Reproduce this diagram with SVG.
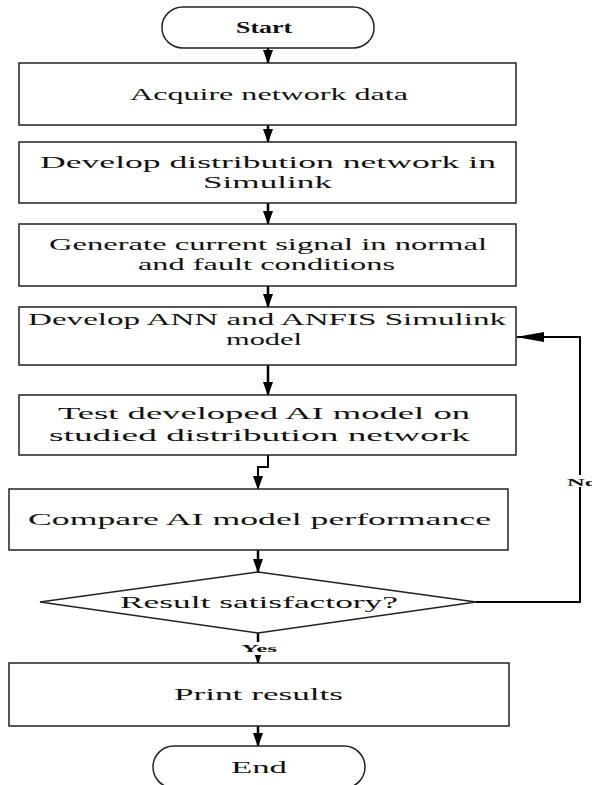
<svg xmlns="http://www.w3.org/2000/svg" width="592" height="785" viewBox="0 0 592 785">
<defs>
<style>
.n{fill:#fff;stroke:#222;stroke-width:1.5}
.t{font-family:"Liberation Serif","Times New Roman",serif;font-size:17px;fill:#111}
.b{font-weight:bold}
.s{font-family:"Liberation Serif","Times New Roman",serif;font-size:11px;font-weight:bold;fill:#111}
.c{fill:none;stroke:#000;stroke-width:2.5}
.c2{fill:none;stroke:#000;stroke-width:2}
</style>
<marker id="arr" viewBox="0 0 14 10" refX="13" refY="5" markerWidth="14" markerHeight="10" markerUnits="userSpaceOnUse" orient="auto"><path d="M0,0 L14,5 L0,10 z" fill="#000"/></marker>
<marker id="arrL" viewBox="0 0 28 10" refX="27" refY="5" markerWidth="28" markerHeight="10" markerUnits="userSpaceOnUse" orient="auto"><path d="M0,0 L28,5 L0,10 z" fill="#000"/></marker>
</defs>
<rect width="592" height="785" fill="#fff"/>
<g id="connectors">
<path class="c" d="M268,48 V63" marker-end="url(#arr)"/>
<path class="c" d="M268,125 V142" marker-end="url(#arr)"/>
<path class="c" d="M268,203 V224" marker-end="url(#arr)"/>
<path class="c" d="M268,286 V307" marker-end="url(#arr)"/>
<path class="c" d="M268,365 V395" marker-end="url(#arr)"/>
<path class="c2" d="M268,455 V467 H258 V489" marker-end="url(#arr)"/>
<path class="c" d="M258,550 V572" marker-end="url(#arr)"/>
<path class="c" d="M258,633 V663" marker-end="url(#arr)"/>
<path class="c" d="M258,726 V746" marker-end="url(#arr)"/>
<path class="c2" d="M476,602 H580 V337 H517" marker-end="url(#arrL)"/>
<rect x="240" y="642" width="38" height="13" fill="#fff"/>
<text class="s" x="241" y="652" textLength="36" lengthAdjust="spacingAndGlyphs">Yes</text>
<rect x="566" y="475" width="26" height="12" fill="#fff"/>
<text class="s" x="567" y="486" textLength="30" lengthAdjust="spacingAndGlyphs">No</text>
</g>
<g id="start"><rect class="n" x="162" y="7" width="212" height="41" rx="21" ry="20"/><text class="t b" x="236" y="33" textLength="56" lengthAdjust="spacingAndGlyphs">Start</text></g>
<g id="acquire"><rect class="n" x="19" y="63" width="497" height="62"/><text class="t" x="130" y="100" textLength="278" lengthAdjust="spacingAndGlyphs">Acquire network data</text></g>
<g id="develop-network"><rect class="n" x="19" y="142" width="497" height="61"/><text class="t" x="40" y="168" textLength="456" lengthAdjust="spacingAndGlyphs">Develop distribution network in</text><text class="t" x="203" y="188" textLength="129" lengthAdjust="spacingAndGlyphs">Simulink</text></g>
<g id="generate"><rect class="n" x="19" y="224" width="497" height="62"/><text class="t" x="49" y="250" textLength="438" lengthAdjust="spacingAndGlyphs">Generate current signal in normal</text><text class="t" x="138" y="270" textLength="257" lengthAdjust="spacingAndGlyphs">and fault conditions</text></g>
<g id="develop-ann"><rect class="n" x="19" y="307" width="497" height="58"/><text class="t" x="28" y="325" textLength="478" lengthAdjust="spacingAndGlyphs">Develop ANN and ANFIS Simulink</text><text class="t" x="226" y="345" textLength="76" lengthAdjust="spacingAndGlyphs">model</text></g>
<g id="test"><rect class="n" x="19" y="395" width="497" height="60"/><text class="t" x="58" y="419" textLength="412" lengthAdjust="spacingAndGlyphs">Test developed AI model on</text><text class="t" x="49" y="441" textLength="421" lengthAdjust="spacingAndGlyphs">studied distribution network</text></g>
<g id="compare"><rect class="n" x="9" y="489" width="499" height="61"/><text class="t" x="28" y="525" textLength="463" lengthAdjust="spacingAndGlyphs">Compare AI model performance</text></g>
<g id="decision"><polygon class="n" points="258,572 476,602 258,633 40,602"/><text class="t" x="120" y="608" textLength="278" lengthAdjust="spacingAndGlyphs">Result satisfactory?</text></g>
<g id="print"><rect class="n" x="9" y="663" width="500" height="63"/><text class="t" x="174" y="700" textLength="169" lengthAdjust="spacingAndGlyphs">Print results</text></g>
<g id="end"><rect class="n" x="153" y="746" width="212" height="42" rx="21" ry="21"/><text class="t" x="231" y="773" textLength="56" lengthAdjust="spacingAndGlyphs">End</text></g>
</svg>
